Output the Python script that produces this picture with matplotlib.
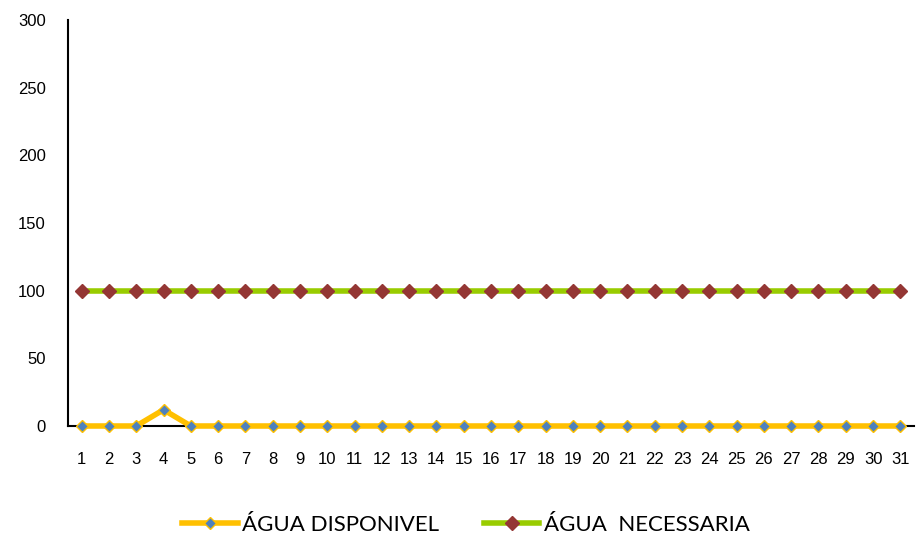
import matplotlib
matplotlib.use("Agg")
import matplotlib.pyplot as plt
from matplotlib.lines import Line2D

days = list(range(1, 32))
agua_disponivel = [0, 0, 0, 12] + [0] * 27
agua_necessaria = [100] * 31
yticks = [0, 50, 100, 150, 200, 250, 300]

fig = plt.figure(figsize=(9.19, 5.36), dpi=100)
ax = fig.add_axes([68/919, 1-426/536, (914-68)/919, (426-20)/536])

ax.plot(days, agua_disponivel, color="#FFC000", lw=4, marker="D", markersize=6,
        markerfacecolor="#4F81BD", markeredgecolor="#FFC000", markeredgewidth=1,
        zorder=3, clip_on=False)
ax.plot(days, agua_necessaria, color="#99CC00", lw=4, marker="D", markersize=7,
        markerfacecolor="#943634", markeredgecolor="#943634", zorder=3, clip_on=False)

ax.set_xlim(0.5, 31.5)
ax.set_ylim(0, 300)
ax.set_yticks(yticks)
ax.set_xticks(days)
ax.tick_params(axis="both", length=0, labelsize=12)
ax.tick_params(axis="x", pad=19)
ax.tick_params(axis="y", pad=16)
for lbl in ax.get_xticklabels() + ax.get_yticklabels():
    lbl.set_family("Liberation Sans")
for s in ["top", "right"]:
    ax.spines[s].set_visible(False)
ax.spines["left"].set_linewidth(1.5)
ax.spines["bottom"].set_linewidth(1.5)
ax.spines["bottom"].set_zorder(1)

handles = [
    Line2D([], [], color="#FFC000", lw=4, marker="D", markersize=6,
           markerfacecolor="#4F81BD", markeredgecolor="#FFC000"),
    Line2D([], [], color="#99CC00", lw=4, marker="D", markersize=7,
           markerfacecolor="#943634", markeredgecolor="#943634"),
]
fig.legend(handles, ["ÁGUA DISPONIVEL", "ÁGUA  NECESSARIA"], loc="center",
           bbox_to_anchor=(466/919, 1-525/536), ncol=2, frameon=False,
           prop={"family": "Lato", "size": 16}, handlelength=2.5, handletextpad=0.2,
           columnspacing=2.0, borderpad=0.2)

fig.savefig("out.png", dpi=100)
